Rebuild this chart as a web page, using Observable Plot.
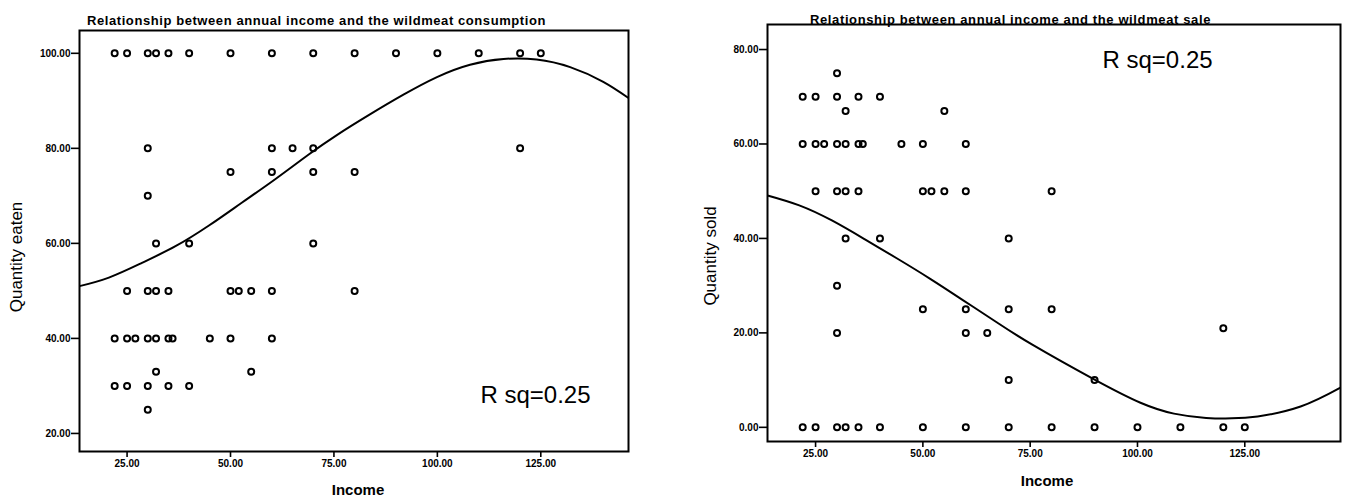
<!DOCTYPE html>
<html>
<head>
<meta charset="utf-8">
<script src="https://cdn.jsdelivr.net/npm/d3@7"></script>
<script src="https://cdn.jsdelivr.net/npm/@observablehq/plot@0.6"></script>
<style>
  html, body { margin: 0; padding: 0; background: #fff; }
  #root { position: relative; width: 1348px; height: 499px; overflow: hidden;
          font-family: "Liberation Sans", Arial, sans-serif; color: #000; }
  .abs { position: absolute; white-space: nowrap; line-height: 1; }
  .title { font-weight: bold; font-size: 13px; transform: translate(-50%, -50%); }
  .ylab { font-size: 17px; transform: translate(-50%, -50%) rotate(-90deg); }
  .xlab { font-size: 15px; font-weight: bold; transform: translate(-50%, -50%); }
  .panel { position: absolute; }
</style>
</head>
<body>
<div id="root"></div>
<script>
// ---------------- data ----------------
const incomeTicks = [25, 50, 75, 100, 125];
const eatenTicks = [20, 40, 60, 80, 100];
const soldTicks = [0, 20, 40, 60, 80];

// Left chart: annual income vs quantity of wildmeat eaten
const eatenIncome = [
  22, 25, 30, 32, 35, 40, 50, 60, 70, 80, 90, 100, 110, 120, 125,
  30, 60, 65, 70, 120,
  50, 60, 70, 80,
  30,
  32, 40, 70,
  25, 30, 32, 35, 50, 52, 55, 60, 80,
  22, 25, 27, 30, 32, 35, 36, 45, 50, 60,
  32, 55,
  22, 25, 30, 35, 40,
  30
];
const eatenQty = [
  100, 100, 100, 100, 100, 100, 100, 100, 100, 100, 100, 100, 100, 100, 100,
  80, 80, 80, 80, 80,
  75, 75, 75, 75,
  70,
  60, 60, 60,
  50, 50, 50, 50, 50, 50, 50, 50, 50,
  40, 40, 40, 40, 40, 40, 40, 40, 40, 40,
  33, 33,
  30, 30, 30, 30, 30,
  25
];
// fitted (cubic) curve
const eatenCurveIncome = [13.5, 20.6, 28.6, 36.7, 44.7, 52.8, 60.8, 68.9, 75.7, 83.8, 91.8, 99.9, 107.9, 116, 124, 132.1, 140.1, 146.2];
const eatenCurveQty    = [51.0, 52.8, 55.9, 59.4, 63.7, 68.6, 73.5, 78.7, 82.8, 87.2, 91.3, 95.0, 97.6, 98.8, 98.7, 97.1, 94.0, 90.6];

// Right chart: annual income vs quantity of wildmeat sold
const soldIncome = [
  30,
  22, 25, 30, 35, 40,
  32, 55,
  22, 25, 27, 30, 32, 35, 36, 45, 50, 60,
  25, 30, 32, 35, 50, 52, 55, 60, 80,
  32, 40, 70,
  30,
  50, 60, 70, 80,
  120,
  30, 60, 65,
  70, 90,
  22, 25, 30, 32, 35, 40, 50, 60, 70, 80, 90, 100, 110, 120, 125
];
const soldQty = [
  75,
  70, 70, 70, 70, 70,
  67, 67,
  60, 60, 60, 60, 60, 60, 60, 60, 60, 60,
  50, 50, 50, 50, 50, 50, 50, 50, 50,
  40, 40, 40,
  30,
  25, 25, 25, 25,
  21,
  20, 20, 20,
  10, 10,
  0, 0, 0, 0, 0, 0, 0, 0, 0, 0, 0, 0, 0, 0, 0
];
const soldCurveIncome = [13.8, 21.2, 28.8, 36.5, 44.1, 51.8, 59.4, 67.1, 75.5, 90, 100.7, 108.5, 116, 122, 128, 138, 147.3];
const soldCurveQty    = [49.1, 47.0, 43.8, 39.8, 35.7, 31.4, 26.9, 22.3, 17.5, 10.1, 5.2, 2.9, 2.0, 1.9, 2.3, 4.4, 8.4];

const titles = [
  "Relationship between annual income and the wildmeat consumption",
  "Relationship between annual income and the wildmeat sale"
];
const yLabels = ["Quantity eaten", "Quantity sold"];
const xLabel = "Income";
const rsqText = "R sq=0.25";

// ---------------- drawing ----------------
const root = document.getElementById("root");
const fmt = d => d.toFixed(2);

function zip(xs, ys) { return xs.map((x, i) => ({x, y: ys[i]})); }

function panel(cfg) {
  const chart = Plot.plot({
    width: cfg.width,
    height: cfg.height,
    marginLeft: cfg.ml, marginRight: cfg.mr, marginTop: cfg.mt, marginBottom: cfg.mb,
    x: {domain: cfg.xDomain, label: null},
    y: {domain: cfg.yDomain, label: null},
    style: {fontFamily: "Liberation Sans, Arial, sans-serif", fontSize: "10px", fontWeight: "bold",
            background: "transparent", color: "black", overflow: "visible"},
    marks: [
      Plot.axisX({ticks: incomeTicks, tickFormat: fmt, tickSize: 6, tickPadding: 2, label: null, strokeWidth: 1.6}),
      Plot.axisY({ticks: cfg.yTicks, tickFormat: fmt, tickSize: 8, tickPadding: 1, label: null, strokeWidth: 1.6}),
      Plot.line(zip(cfg.curveX, cfg.curveY), {x: "x", y: "y", curve: "natural", stroke: "black", strokeWidth: 2, clip: "frame"}),
      Plot.dot(zip(cfg.px, cfg.py), {x: "x", y: "y", r: 3, stroke: "black", strokeWidth: 2, fill: "none"}),
      Plot.text([rsqText], {frameAnchor: cfg.rsq.anchor, dx: cfg.rsq.dx, dy: cfg.rsq.dy, textAnchor: cfg.rsq.textAnchor,
                            lineAnchor: "middle", fontSize: 24, fontWeight: "normal"}),
      Plot.frame({stroke: "black", strokeWidth: 2})
    ]
  });
  const holder = document.createElement("div");
  holder.className = "panel";
  holder.style.left = cfg.left + "px";
  holder.style.top = cfg.top + "px";
  holder.appendChild(chart);
  root.appendChild(holder);
}

function addText(cls, text, cx, cy, fitWidth) {
  const el = document.createElement("div");
  el.className = "abs " + cls;
  el.textContent = text;
  el.style.left = cx + "px";
  el.style.top = cy + "px";
  root.appendChild(el);
  if (fitWidth) {
    const w = el.getBoundingClientRect().width;
    el.style.letterSpacing = ((fitWidth - w) / text.length) + "px";
  }
  return el;
}

// left panel: frame x 79..628, y 30..451
panel({
  left: 0, top: 24, width: 660, height: 475,
  ml: 79, mr: 32, mt: 6, mb: 48,
  xDomain: [13.5, 146.2], yDomain: [16.2, 104.8], yTicks: eatenTicks,
  px: eatenIncome, py: eatenQty, curveX: eatenCurveIncome, curveY: eatenCurveQty,
  rsq: {anchor: "bottom-right", dx: -38, dy: -56, textAnchor: "end"}
});
// right panel: frame x 767..1340, y 24..441
panel({
  left: 680, top: 22, width: 668, height: 477,
  ml: 87, mr: 8, mt: 2, mb: 58,
  xDomain: [13.8, 147.3], yDomain: [-3.0, 85.3], yTicks: soldTicks,
  px: soldIncome, py: soldQty, curveX: soldCurveIncome, curveY: soldCurveQty,
  rsq: {anchor: "top-left", dx: 335, dy: 36, textAnchor: "start"}
});

addText("title", titles[0], 316.5, 20, 459);
addText("title", titles[1], 1010.5, 18.5, 401);
addText("ylab", yLabels[0], 16, 257);
addText("ylab", yLabels[1], 710, 256);
addText("xlab", xLabel, 358, 489);
addText("xlab", xLabel, 1047, 480);
</script>
</body>
</html>
